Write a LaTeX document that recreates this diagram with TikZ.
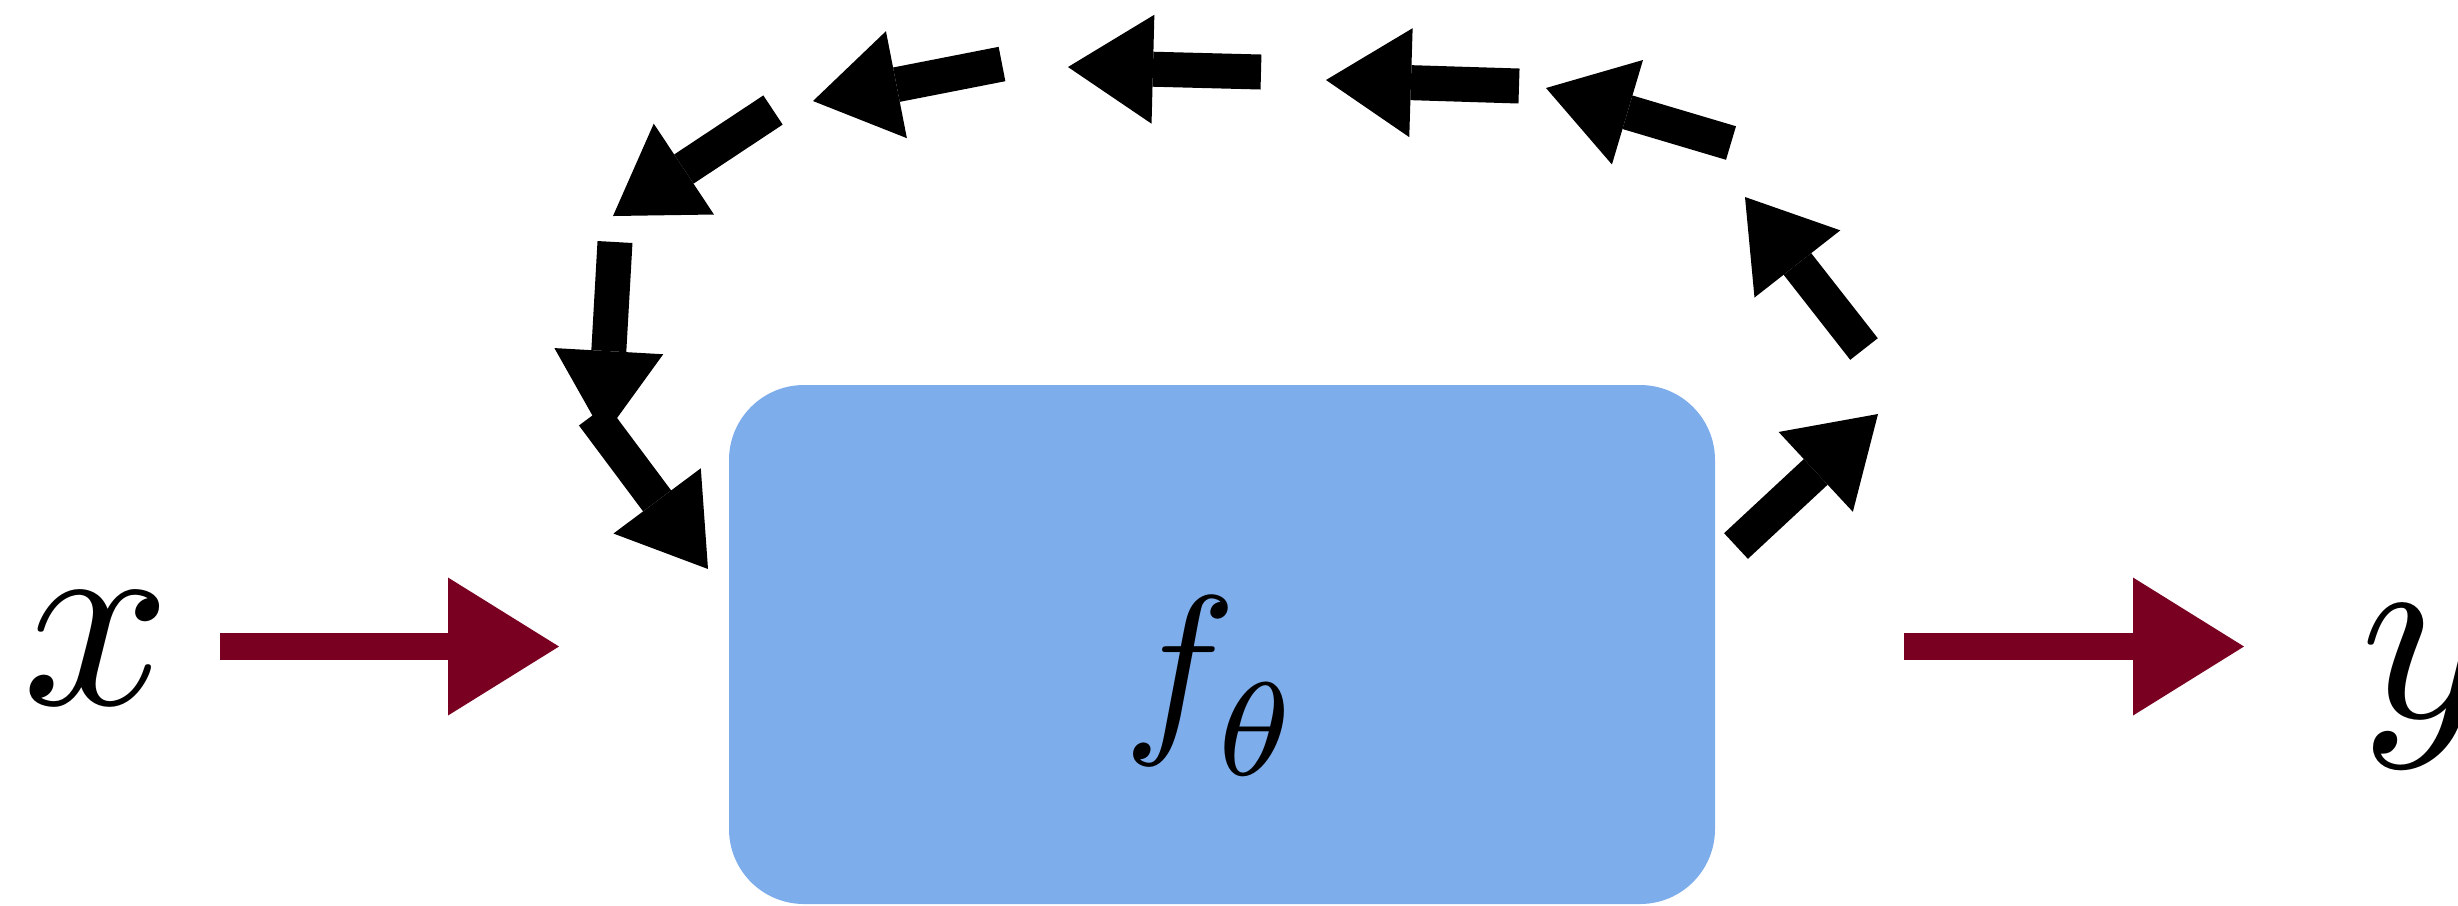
\documentclass[tikz,border=0pt]{standalone}
\usepackage{xcolor}
\usepackage{tikz}
\usetikzlibrary{arrows.meta}
\definecolor{wine}{HTML}{7A0021}
\definecolor{skyblue}{HTML}{7EADEC}

\begin{document}
\begin{tikzpicture}[
    loop arrow/.style={line width=3.5mm,
      -{Triangle[length=8.5mm, width=10.9mm, line width=0pt]}},
    io arrow/.style={wine, line width=2.7mm,
      -{Triangle[length=11.1mm, width=13.8mm, line width=0pt]}},
    var/.style={scale=7.4, inner sep=0pt}
  ]
  \useasboundingbox (0,0) rectangle (24.58,-9.05);

  % model block
  \node[fill=skyblue, rounded corners=7.5mm, minimum width=9.86cm,
    minimum height=5.19cm, inner sep=0pt] (model) at (12.22,-6.445) {};
  \node[scale=5.4, anchor=base, inner sep=0pt] (label)
    at ([xshift=-0.9mm, yshift=-8.35mm]model.center)
    {$f_{\lower1pt\hbox{$\scriptstyle\theta$}}$};

  % input and output
  \node[var, anchor=base] (x) at (0.965,-7.04) {$x$};
  \node[var, anchor=base west] (y) at (23.55,-7.17) {$y$};
  \coordinate (xout) at (2.20,-6.465);
  \coordinate (fin) at (5.59,-6.465);
  \coordinate (fout) at (19.04,-6.465);
  \coordinate (yin) at (22.44,-6.465);
  \draw[io arrow] (xout) -- (fin);
  \draw[io arrow] (fout) -- (yin);

  % feedback loop over the block
  \foreach[count=\i] \tx/\ty/\hx/\hy in {%
    17.36/5.46/18.78/4.14, 18.64/3.49/17.45/1.97, 17.31/1.43/15.46/0.88,
    15.19/0.86/13.26/0.80, 12.61/0.72/10.68/0.67, 10.02/0.64/8.13/1.01,
    7.73/1.10/6.13/2.16, 6.15/2.42/6.04/4.36, 5.93/4.15/7.08/5.69} {
    \coordinate (t\i) at (\tx,-\ty);
    \coordinate (h\i) at (\hx,-\hy);
    \draw[loop arrow] (t\i) -- (h\i);
  }
\end{tikzpicture}
\end{document}
